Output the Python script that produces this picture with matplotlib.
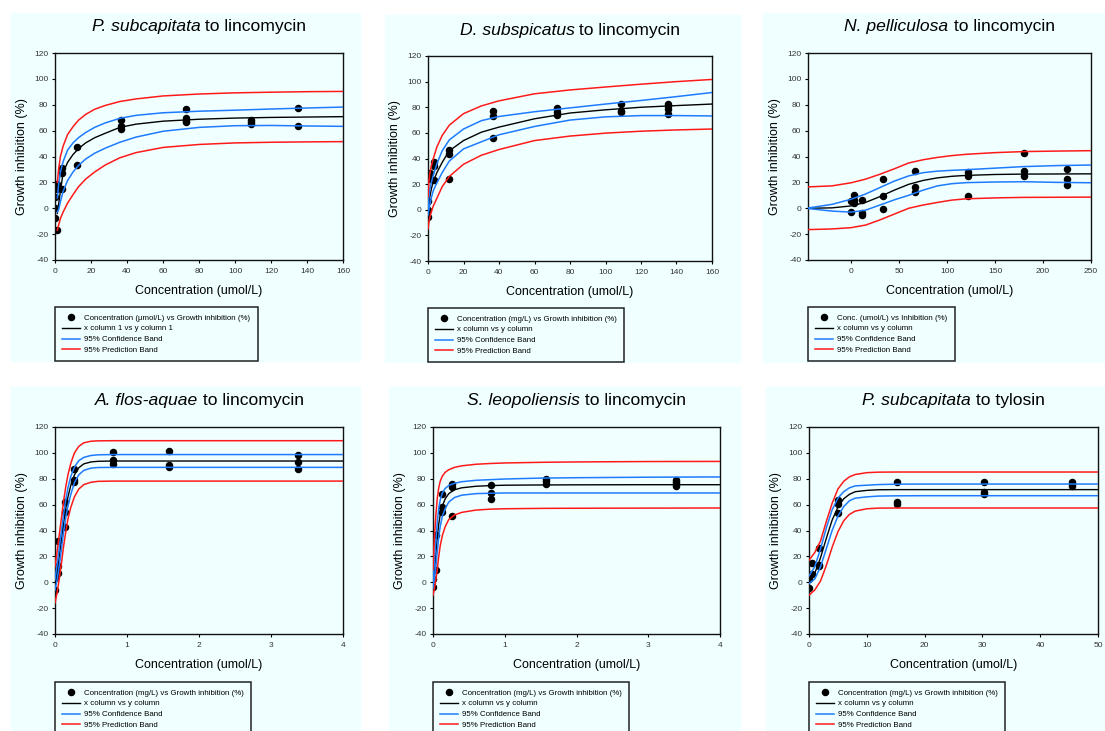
import matplotlib
matplotlib.use("Agg")
import matplotlib.pyplot as plt
from matplotlib.patches import Rectangle

plt.rcParams['font.family'] = ['Liberation Sans', 'DejaVu Sans']
plt.rcParams['axes.unicode_minus'] = False

W, H = 1105, 731
CYAN = '#F0FFFF'
BLUE = '#1E7BFF'
RED = '#FF1A1A'

# --- panel 1: P. subcapitata / lincomycin ---
p1_x = [0, 0, 0, 1.35, 1.35, 1.35, 4.05, 4.05, 4.05, 12.2, 12.2, 36.4, 36.4, 36.4,
        72.8, 72.8, 72.8, 72.8, 109, 109, 109, 135, 135]
p1_y = [8.5, 0.3, -7.5, 19, 15, -16.8, 31, 27.5, 14.8, 47.6, 33.7, 68, 63.5, 61,
        76.7, 69.5, 67.5, 66.8, 68.5, 66.5, 64.8, 77.7, 63.8]
p1_cx = [1.3, 2, 3, 4.5, 7, 10, 13, 17, 22, 28, 36, 45, 60, 80, 100, 120, 140, 160]
p1_fit = [-4, 3, 13, 27.5, 35.5, 41.5, 46, 50.5, 54.5, 58, 62.5, 65, 67.3, 68.8, 69.7, 70.2, 70.5, 70.8]
p1_ci_hi = [8, 18, 28, 36, 45, 50.5, 54.5, 58.5, 62.5, 66, 69.5, 71.8, 73.8, 75, 75.8, 76.7, 77.5, 78.2]
p1_ci_lo = [-3, -1, 5, 13, 21.5, 28, 33, 38, 42.5, 46.5, 51, 55, 59.5, 62.5, 63.8, 64, 63.6, 63.3]
p1_pi_hi = [20, 30, 40, 48, 57, 63, 68, 72.5, 76.5, 79.5, 82.5, 84.5, 86.8, 88.3, 89.2, 89.7, 90.1, 90.3]
p1_pi_lo = [-17, -13, -8, -3, 4, 10.5, 16.5, 22.5, 28, 33.5, 39, 43, 47, 49.3, 50.5, 51, 51.3, 51.5]

# --- panel 2: D. subspicatus / lincomycin ---
p2_x = [0, 0, 0, 1.1, 1.1, 3.6, 3.6, 3.6, 12, 12, 12, 36.4, 36.4, 36.4, 72.8, 72.8, 72.8,
        109, 109, 109, 135, 135, 135, 135]
p2_y = [7, 0, -5.5, 29, 24, 37, 34.5, 23.5, 46.6, 43.5, 23.8, 77, 73.5, 56, 79.3, 76.2, 74.2,
        82.8, 76.8, 76, 82.8, 81, 78.9, 74.8]
p2_cx = [0, 0.5, 1, 2, 3, 5, 8, 12, 20, 30, 40, 60, 80, 100, 120, 140, 160]
p2_fit = [-3, 5, 10, 17, 22, 29, 37, 46, 54, 60.5, 64.5, 71, 75.5, 78, 80, 81.3, 82.5]
p2_ci_hi = [-1, 10, 16, 22, 27, 36, 46, 54.5, 63, 69.5, 72.8, 76.5, 79.5, 82.5, 85.3, 88.3, 91.5]
p2_ci_lo = [-4, 0, 4, 10, 15, 21, 29, 38, 47.5, 53, 58.5, 65, 70, 72.5, 73.5, 73.5, 73.2]
p2_pi_hi = [10, 22, 28, 35, 40, 49, 58, 66, 75, 81, 85, 90.5, 93.5, 95.8, 98, 100, 101.7]
p2_pi_lo = [-15, -10, -6, -1, 3, 9, 18, 26, 35.5, 42.5, 47, 54, 57.5, 59.8, 61.3, 62.3, 63]

# --- panel 3: N. pelliculosa / lincomycin ---
p3_x = [0, 0, 3.3, 3.3, 3.3, 11, 11, 11, 33.1, 33.1, 33.1, 66.7, 66.7, 66.7,
        121.5, 121.5, 121.5, 180, 180, 180, 225, 225, 225]
p3_y = [5.7, -3.2, 10.2, 6.5, 4, 6, -3.8, -5.3, 22.5, 9.6, -0.3, 28.6, 16.8, 12.3,
        27.8, 25.3, 9.6, 42.8, 28.6, 24.7, 30.7, 22.5, 18]
p3_cx = [-45, -20, 0, 15, 30, 45, 60, 75, 90, 105, 120, 150, 180, 215, 250]
p3_fit = [0, 0.3, 1.8, 4.5, 9, 14, 18.5, 21.5, 23.5, 24.7, 25.4, 26.1, 26.4, 26.5, 26.6]
p3_ci_hi = [0.2, 3, 7, 11, 16, 21, 25, 27.5, 28.7, 29.3, 29.8, 31, 32.2, 33, 33.4]
p3_ci_lo = [-0.2, -2.2, -3, -1.5, 2.5, 6.5, 10, 14, 17.3, 19, 19.8, 20.3, 20.5, 20, 19.7]
p3_pi_hi = [16.5, 17.3, 19.7, 22.5, 26.3, 30.5, 35, 37.5, 39.3, 40.7, 41.7, 43, 43.8, 44.2, 44.5]
p3_pi_lo = [-16.5, -16, -15, -13, -9, -4.5, 0, 2.5, 4.5, 6.3, 7.3, 8, 8.4, 8.5, 8.6]

# --- panel 4: A. flos-aquae / lincomycin ---
p4_x = [0, 0, 0, 0.04, 0.04, 0.04, 0.135, 0.135, 0.135, 0.27, 0.27, 0.27,
        0.81, 0.81, 0.81, 1.58, 1.58, 1.58, 3.38, 3.38, 3.38]
p4_y = [-6.3, 4.3, 3.0, 31.5, 12.8, 7.5, 61.8, 54.6, 42.5, 87.5, 78.8, 77.5,
        100.6, 94.5, 91.2, 101.8, 90.8, 88.8, 98.5, 93.2, 87.8]
p4_cx = [0, 0.03, 0.06, 0.09, 0.12, 0.15, 0.18, 0.22, 0.27, 0.33, 0.4, 0.5, 0.6, 0.8, 1, 2, 3, 4]
p4_fit = [-2, 8, 20, 33, 46, 57, 66, 75, 83, 88.5, 91.5, 93, 93.5, 93.7, 93.7, 93.7, 93.7, 93.7]
p4_ci_hi = [2, 14, 27, 40, 53, 64, 73, 82, 89, 94, 96.5, 98, 98.5, 98.7, 98.7, 98.7, 98.7, 98.7]
p4_ci_lo = [-6, 2, 13, 26, 39, 50, 59, 68, 77, 83, 86.5, 88.2, 88.7, 88.8, 88.8, 88.8, 88.8, 88.8]
p4_pi_hi = [12, 24, 37, 50, 63, 74, 83, 92, 100, 105, 107.8, 109, 109.3, 109.4, 109.4, 109.4, 109.4, 109.4]
p4_pi_lo = [-16, -8, 3, 15, 28, 39, 49, 58, 66, 72, 75.5, 77.3, 78, 78.2, 78.2, 78.2, 78.2, 78.2]

# --- panel 5: S. leopoliensis / lincomycin ---
p5_x = [0, 0, 0.037, 0.037, 0.13, 0.13, 0.13, 0.26, 0.26, 0.26, 0.81, 0.81, 0.81,
        1.58, 1.58, 1.58, 3.38, 3.38, 3.38, 3.38]
p5_y = [2.3, -3.3, 36.5, 9.2, 68.2, 58.4, 54.0, 76.2, 73.4, 51.5, 75.2, 69.3, 64.5,
        80.0, 78.5, 76.2, 79.3, 77.5, 76.0, 74.2]
p5_cx = [0, 0.02, 0.04, 0.06, 0.08, 0.1, 0.13, 0.17, 0.22, 0.3, 0.4, 0.6, 0.8, 1, 1.5, 2, 3, 4]
p5_fit = [-3, 8, 22, 35, 45, 52, 59, 64.5, 68.5, 71.5, 73, 74.2, 74.7, 75, 75.2, 75.3, 75.4, 75.4]
p5_ci_hi = [-1, 16, 33, 47, 57, 63.5, 69, 72.5, 74.8, 76.5, 77.7, 78.8, 79.3, 79.8, 80.5, 80.8, 81.2, 81.4]
p5_ci_lo = [-5, 2, 12, 24, 35, 43, 51, 57, 62, 65.5, 67.3, 68.5, 68.8, 69, 69, 69, 69, 69]
p5_pi_hi = [10, 35, 52, 65, 73, 78, 82, 85, 87, 88.8, 90, 91.2, 91.8, 92.2, 92.7, 93, 93.3, 93.4]
p5_pi_lo = [-10, -5, 2, 10, 20, 28, 36, 43, 48.5, 52, 54, 55.8, 56.5, 56.8, 57.1, 57.2, 57.3, 57.4]

# --- panel 6: P. subcapitata / tylosin ---
p6_x = [0, 0, 0, 0.6, 0.6, 1.7, 1.7, 1.7, 5.1, 5.1, 5.1, 15.2, 15.2, 15.2,
        30.3, 30.3, 30.3, 45.5, 45.5, 45.5]
p6_y = [3.8, 2.2, -4.2, 14.7, 6.3, 26.3, 13.2, 12.3, 63.3, 60.8, 53.3, 77.5, 62, 60.8,
        77.5, 69.5, 68.3, 77.5, 76.2, 74.2]
p6_cx = [0, 1, 2, 3, 4, 5, 6, 7, 8, 10, 12, 15, 20, 30, 40, 50]
p6_fit = [2, 7, 19, 34, 48, 58, 64.5, 68, 70, 71, 71.5, 71.6, 71.6, 71.6, 71.6, 71.6]
p6_ci_hi = [5, 12, 26, 42, 56, 65, 70, 73, 74.5, 75, 75.5, 75.8, 75.9, 75.9, 75.9, 75.9]
p6_ci_lo = [-1, 2.5, 12, 26, 40, 51, 58.5, 63, 65, 66, 66.6, 66.8, 66.9, 66.9, 66.9, 66.9]
p6_pi_hi = [17, 23, 32, 47, 61, 72, 78, 81.5, 83.3, 84.7, 85.1, 85.2, 85.2, 85.2, 85.2, 85.2]
p6_pi_lo = [-10, -6, 1, 13, 27, 39, 47.5, 52.5, 55, 56.8, 57.3, 57.4, 57.4, 57.4, 57.4, 57.4]

titles = [("P. subcapitata", " to lincomycin"), ("D. subspicatus", " to lincomycin"),
          ("N. pelliculosa", " to lincomycin"), ("A. flos-aquae", " to lincomycin"),
          ("S. leopoliensis", " to lincomycin"), ("P. subcapitata", " to tylosin")]

leg_points = ["Concentration (\u03bcmol/L) vs Growth inhibition (%)",
              "Concentration (mg/L) vs Growth inhibition (%)",
              "Conc. (umol/L) vs Inhibition (%)",
              "Concentration (mg/L) vs Growth inhibition (%)",
              "Concentration (mg/L) vs Growth inhibition (%)",
              "Concentration (mg/L) vs Growth inhibition (%)"]
leg_fit = ["x column 1 vs y column 1", "x column vs y column", "x column vs y column",
           "x column vs y column", "x column vs y column", "x column vs y column"]

xlims = [(0, 160), (0, 160), (-45, 250), (0, 4), (0, 4), (0, 50)]
xticks = [range(0, 161, 20), range(0, 161, 20), range(0, 251, 50),
          range(0, 5), range(0, 5), range(0, 51, 10)]

# layout in pixels: axes (left, right, top, bottom), background box, legend top-left
ax_px = [(55, 343, 53, 260), (428, 712, 56, 261), (808, 1091, 53, 260),
         (55, 343, 427, 634), (433, 720, 427, 634), (809, 1098, 427, 634)]
bg_px = [(11, 360, 13, 361), (385, 740, 15, 362), (763, 1105, 13, 362),
         (11, 360, 387, 731), (389, 740, 387, 731), (766, 1105, 387, 731)]
leg_px = [(55, 307), (428, 308), (808, 307), (55, 682), (433, 682), (809, 682)]

data = [
    (p1_x, p1_y, p1_cx, p1_fit, p1_ci_hi, p1_ci_lo, p1_pi_hi, p1_pi_lo),
    (p2_x, p2_y, p2_cx, p2_fit, p2_ci_hi, p2_ci_lo, p2_pi_hi, p2_pi_lo),
    (p3_x, p3_y, p3_cx, p3_fit, p3_ci_hi, p3_ci_lo, p3_pi_hi, p3_pi_lo),
    (p4_x, p4_y, p4_cx, p4_fit, p4_ci_hi, p4_ci_lo, p4_pi_hi, p4_pi_lo),
    (p5_x, p5_y, p5_cx, p5_fit, p5_ci_hi, p5_ci_lo, p5_pi_hi, p5_pi_lo),
    (p6_x, p6_y, p6_cx, p6_fit, p6_ci_hi, p6_ci_lo, p6_pi_hi, p6_pi_lo),
]

fig = plt.figure(figsize=(W / 100, H / 100), dpi=100)
fig.patch.set_facecolor('white')

title_parts = []
for i in range(6):
    px, py, cx, fit, ci_hi, ci_lo, pi_hi, pi_lo = data[i]
    l, r, t, b = ax_px[i]
    bl, br, bt, bb = bg_px[i]
    # background box behind the whole panel (drawn under the axes)
    fig.patches.append(Rectangle((bl / W, 1 - bb / H), (br - bl) / W, (bb - bt) / H,
                                 transform=fig.transFigure, color=CYAN, zorder=-5))
    ax = fig.add_axes([l / W, 1 - b / H, (r - l) / W, (b - t) / H])
    ax.set_facecolor(CYAN)

    pts, = ax.plot(px, py, 'o', color='black', ms=4.4, ls='none', zorder=2)
    fl, = ax.plot(cx, fit, color='black', lw=1.0, zorder=3)
    cl, = ax.plot(cx, ci_hi, color=BLUE, lw=1.1, zorder=3)
    ax.plot(cx, ci_lo, color=BLUE, lw=1.1, zorder=3)
    pl, = ax.plot(cx, pi_hi, color=RED, lw=1.1, zorder=3)
    ax.plot(cx, pi_lo, color=RED, lw=1.1, zorder=3)

    ax.set_xlim(*xlims[i])
    ax.set_ylim(-40, 120)
    ax.set_xticks(list(xticks[i]))
    ax.set_yticks(range(-40, 121, 20))
    ax.tick_params(direction='out', length=2.5, width=0.8, labelsize=6.0,
                   labelcolor='#333333', pad=2.3)
    ax.tick_params(axis='x', pad=3.3)
    for s in ax.spines.values():
        s.set_linewidth(1.0)
        s.set_color('#111111')

    ax.set_xlabel('Concentration (umol/L)', fontsize=9)
    ax.xaxis.set_label_coords(0.5, -31 / (b - t))
    ax.xaxis.label.set_va('center')
    ax.set_ylabel('Growth inhibition (%)', fontsize=9)
    ax.yaxis.set_label_coords(-33 / (r - l), 0.5)
    ax.yaxis.label.set_va('center')

    leg = ax.legend([pts, fl, cl, pl],
                    [leg_points[i], leg_fit[i], '95% Confidence Band', '95% Prediction Band'],
                    loc='upper left', bbox_to_anchor=(leg_px[i][0] / W, 1 - leg_px[i][1] / H),
                    bbox_transform=fig.transFigure, borderaxespad=0, fontsize=5.65,
                    frameon=True, fancybox=False, edgecolor='#222222', facecolor=CYAN,
                    framealpha=1, handlelength=2.3, handletextpad=0.55, borderpad=0.9,
                    labelspacing=0.43, numpoints=1, markerscale=1.0)
    leg.get_frame().set_linewidth(1.1)

    # two-part title: italic species + regular rest
    ty = 1 + 21.5 / (b - t)
    t1 = ax.text(0.5, ty, titles[i][0], style='italic', fontsize=12.6,
                 transform=ax.transAxes, ha='left', va='baseline')
    t2 = ax.annotate(titles[i][1], xy=(1, 0), xycoords=t1, fontsize=12.6,
                     ha='left', va='bottom')
    title_parts.append((ax, t1, t2, r - l))

fig.canvas.draw()
rend = fig.canvas.get_renderer()
for ax, t1, t2, wpx in title_parts:
    w = t1.get_window_extent(rend).width + t2.get_window_extent(rend).width
    x0, y0 = t1.get_position()
    t1.set_position((0.5 - w / 2 / wpx, y0))

fig.savefig('out.png', dpi=100, facecolor='white')
